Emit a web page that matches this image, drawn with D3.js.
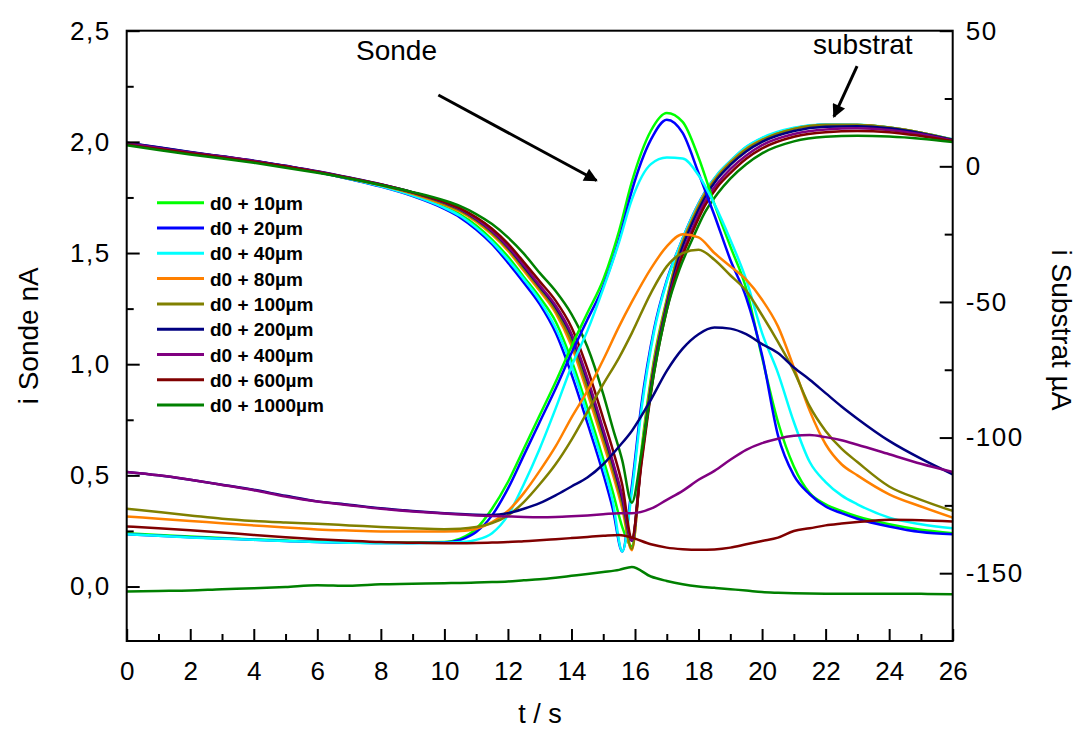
<!DOCTYPE html>
<html>
<head>
<meta charset="utf-8">
<script src="https://cdn.jsdelivr.net/npm/d3@7"></script>
<style>
  html, body { margin: 0; padding: 0; background: #fff; }
  svg { display: block; font-family: "Liberation Sans", Arial, sans-serif; }
</style>
</head>
<body>
<svg id="chart" width="1085" height="731"></svg>
<script>
// ---------- DATA ----------
const seriesLabels = ["d0 + 10µm", "d0 + 20µm", "d0 + 40µm", "d0 + 80µm", "d0 + 100µm",
                      "d0 + 200µm", "d0 + 400µm", "d0 + 600µm", "d0 + 1000µm"];
const seriesColors = ["#00ff00", "#0000ff", "#00ffff", "#ff8000", "#808000",
                      "#000080", "#800080", "#800000", "#008000"];

// time grid for probe (Sonde) currents, s
const tSonde = [0,1,2,3,4,5,6,7,8,9,10,10.5,11,11.5,12,12.5,13,13.5,14,14.5,15,15.5,15.9,16.5,17,17.5,18,18.5,19,19.5,20,20.5,21,21.5,22,22.5,23,24,25,26];
// probe current, nA (left axis)
const sonde10   = [0.24,0.232,0.225,0.218,0.212,0.207,0.202,0.2,0.198,0.198,0.2,0.215,0.26,0.35,0.47,0.62,0.77,0.92,1.08,1.23,1.38,1.6,1.82,2.05,2.13,2.09,1.93,1.72,1.53,1.34,1.03,0.74,0.54,0.42,0.37,0.34,0.315,0.28,0.255,0.24];
const sonde20   = [0.235,0.228,0.222,0.216,0.21,0.205,0.2,0.198,0.196,0.196,0.198,0.21,0.245,0.32,0.44,0.59,0.74,0.89,1.05,1.2,1.35,1.56,1.78,2.01,2.1,2.04,1.86,1.67,1.47,1.3,1.04,0.68,0.5,0.415,0.36,0.33,0.305,0.27,0.245,0.235];
const sonde40   = [0.235,0.228,0.221,0.215,0.21,0.205,0.2,0.197,0.195,0.195,0.197,0.2,0.21,0.24,0.32,0.46,0.62,0.8,0.99,1.15,1.34,1.55,1.74,1.9,1.93,1.925,1.85,1.72,1.56,1.38,1.14,0.96,0.74,0.56,0.47,0.41,0.37,0.31,0.28,0.262];
const sonde80   = [0.315,0.305,0.295,0.285,0.275,0.265,0.257,0.252,0.248,0.247,0.248,0.25,0.26,0.29,0.34,0.42,0.52,0.63,0.76,0.88,1.02,1.17,1.28,1.43,1.53,1.585,1.57,1.5,1.44,1.38,1.29,1.17,0.985,0.79,0.64,0.55,0.5,0.415,0.36,0.31];
const sonde100  = [0.35,0.335,0.32,0.305,0.295,0.288,0.282,0.275,0.268,0.262,0.258,0.26,0.268,0.285,0.32,0.38,0.46,0.55,0.66,0.786,0.91,1.03,1.14,1.32,1.44,1.5,1.515,1.47,1.4,1.33,1.22,1.1,0.97,0.81,0.7,0.62,0.56,0.45,0.39,0.34];
const sonde200  = [0.515,0.5,0.48,0.458,0.435,0.408,0.383,0.368,0.352,0.34,0.33,0.326,0.323,0.322,0.33,0.35,0.375,0.41,0.45,0.49,0.55,0.63,0.7,0.84,0.97,1.07,1.135,1.165,1.16,1.135,1.09,1.05,0.985,0.93,0.87,0.81,0.755,0.655,0.575,0.505];
const sonde400  = [0.515,0.5,0.48,0.457,0.433,0.405,0.382,0.366,0.35,0.338,0.328,0.324,0.32,0.317,0.315,0.313,0.312,0.313,0.316,0.32,0.325,0.33,0.33,0.35,0.39,0.43,0.48,0.52,0.57,0.615,0.645,0.665,0.678,0.682,0.672,0.658,0.638,0.595,0.552,0.515];
const sonde600  = [0.27,0.262,0.253,0.243,0.232,0.222,0.213,0.206,0.2,0.197,0.195,0.195,0.196,0.198,0.2,0.204,0.208,0.213,0.218,0.223,0.228,0.232,0.22,0.19,0.175,0.168,0.165,0.167,0.175,0.19,0.205,0.22,0.25,0.262,0.275,0.283,0.29,0.3,0.298,0.293];
const sonde1000 = [-0.022,-0.02,-0.018,-0.012,-0.008,-0.002,0.006,0.003,0.01,0.012,0.015,0.016,0.018,0.02,0.023,0.028,0.033,0.04,0.048,0.056,0.065,0.075,0.088,0.045,0.025,0.01,0.0,-0.006,-0.012,-0.018,-0.025,-0.028,-0.03,-0.031,-0.032,-0.033,-0.033,-0.032,-0.033,-0.035];

// time grid for substrate currents, s
const tSub = [0,1,2,3,4,5,6,7,8,9,10,10.5,11,11.5,12,12.5,13,13.5,14,14.5,15,15.3,15.6,15.9,16.2,16.6,17,17.4,17.8,18.2,18.6,19,19.5,20,21,22,23,24,25,26];
// substrate current, µA (right axis)
const sub10   = [8.4,6.8,5.1,3.5,1.9,0.0,-2.1,-4.6,-7.3,-10.6,-15.0,-17.8,-21.8,-27.0,-33.3,-40.8,-48.3,-57.2,-71.5,-89.0,-108.0,-120.0,-133.0,-140.0,-105,-71,-49,-30.5,-19,-9.8,-3.3,1.6,6.6,9.9,13.9,15.3,15.2,14.3,12.4,9.8];
const sub20   = [8.6,6.9,5.2,3.6,2.0,0.1,-2.1,-4.7,-7.5,-11.0,-15.7,-18.9,-23.3,-28.7,-35.5,-42.9,-50.8,-61.3,-76.6,-94.6,-113.4,-126.3,-142.0,-118,-88,-60,-42,-29.5,-18.5,-9.5,-3.0,1.8,7.0,10.3,14.0,15.3,15.2,14.2,12.3,9.8];
const sub40   = [8.5,6.8,5.1,3.5,1.9,0.0,-2.1,-4.6,-7.4,-10.8,-15.3,-18.3,-22.6,-27.9,-34.4,-41.6,-49.5,-59.5,-73.5,-91.5,-110.5,-123.5,-142.0,-120,-90,-61,-42.5,-29.5,-18.5,-9.5,-2.8,2.0,7.2,10.5,14.2,15.4,15.3,14.3,12.4,10.0];
const sub80   = [8.3,6.7,5.0,3.5,1.9,0.0,-2.0,-4.4,-7.0,-10.1,-14.2,-16.7,-20.4,-25.2,-31.1,-38.5,-45.9,-54.0,-66.2,-83.5,-102.0,-113.4,-126.3,-141.5,-107,-72,-49.5,-31,-19.5,-10,-3.5,1.5,6.5,9.8,13.8,15.2,15.2,14.3,12.4,9.8];
const sub100  = [8.3,6.7,5.0,3.5,1.9,0.0,-2.0,-4.3,-6.9,-9.9,-13.8,-16.3,-19.9,-24.6,-30.4,-37.6,-45.0,-53.0,-64.5,-81.5,-100.0,-111.5,-124.5,-141.0,-108,-73,-50,-31.5,-20,-10.5,-3.8,1.3,6.3,9.7,13.8,15.2,15.2,14.3,12.4,9.8];
const sub200  = [8.7,7.0,5.3,3.7,2.1,0.2,-1.8,-4.1,-6.6,-9.6,-13.4,-15.9,-19.5,-24.0,-29.8,-36.9,-44.3,-51.9,-62.5,-79.0,-98.0,-109.5,-122.5,-138.0,-108,-74,-51,-33,-21,-11.5,-4.5,0.5,5.5,9.0,13.0,14.6,14.8,14.0,12.2,9.7];
const sub400  = [8.5,6.8,5.1,3.6,2.0,0.1,-1.9,-4.2,-6.7,-9.6,-13.3,-15.8,-19.3,-23.8,-29.5,-36.5,-43.9,-51.3,-61.8,-78.0,-97.0,-108.8,-121.5,-138.0,-109,-75,-52,-35,-23,-13,-6.2,-1.0,4.0,7.8,11.9,13.6,14.0,13.4,11.8,9.5];
const sub600  = [8.0,6.4,4.8,3.3,1.7,-0.1,-2.1,-4.3,-6.7,-9.6,-13.1,-15.5,-18.8,-23.0,-28.5,-35.3,-42.4,-49.5,-59.3,-74.5,-93.0,-104.5,-117.5,-137.0,-110,-76,-53,-36,-24.5,-14.5,-7.5,-2.5,2.8,6.6,10.9,12.6,13.0,12.6,11.2,9.3];
const sub1000 = [7.8,6.0,4.4,2.9,1.3,-0.5,-2.4,-4.5,-6.9,-9.5,-12.6,-14.7,-17.6,-21.3,-26.2,-32.2,-39.3,-46.0,-54.5,-66.5,-84.0,-96.5,-108.5,-124.0,-106,-76,-53,-38,-27,-17,-10,-4.5,0.8,4.8,9.2,10.9,11.3,11.0,10.2,9.0];

const sondeSeries = [sonde10, sonde20, sonde40, sonde80, sonde100, sonde200, sonde400, sonde600, sonde1000];
const subSeries   = [sub10, sub20, sub40, sub80, sub100, sub200, sub400, sub600, sub1000];

// axis ticks
const xTicks = [0,2,4,6,8,10,12,14,16,18,20,22,24,26];
const xMinor = [1,3,5,7,9,11,13,15,17,19,21,23,25];
const yLTicks = [0,0.5,1.0,1.5,2.0,2.5];
const yLMinor = [0.25,0.75,1.25,1.75,2.25];
const yRTicks = [-150,-100,-50,0,50];
const yRMinor = [-125,-75,-25,25];

// ---------- LAYOUT ----------
const plot = {left: 126.7, right: 952.7, top: 30.7, bottom: 641};
const svg = d3.select("#chart");

const x  = d3.scaleLinear().domain([0, 26]).range([plot.left, plot.right]);
const yL = d3.scaleLinear().domain([-0.245, 2.5]).range([plot.bottom, plot.top]);
const yR = d3.scaleLinear().domain([-175, 50]).range([plot.bottom, plot.top]);

const fmtL = v => d3.format(".1f")(v).replace(".", ",");
const fmtR = v => String(v); // plain hyphen minus as in the original

const lineL = d3.line().x(d => x(d[0])).y(d => yL(d[1])).curve(d3.curveMonotoneX);
const lineR = d3.line().x(d => x(d[0])).y(d => yR(d[1])).curve(d3.curveMonotoneX);

const gCurves = svg.append("g");
seriesColors.forEach((c, i) => {
  gCurves.append("path")
    .attr("d", lineR(tSub.map((t, k) => [t, subSeries[i][k]])))
    .attr("fill", "none").attr("stroke", c).attr("stroke-width", 2.5)
    .attr("stroke-linejoin", "round");
});
seriesColors.forEach((c, i) => {
  gCurves.append("path")
    .attr("d", lineL(tSonde.map((t, k) => [t, sondeSeries[i][k]])))
    .attr("fill", "none").attr("stroke", c).attr("stroke-width", 2.5)
    .attr("stroke-linejoin", "round");
});

// axes
function styleAxis(g, fs) {
  g.select(".domain").remove();
  g.selectAll(".tick line").attr("stroke", "#000").attr("stroke-width", 2);
  g.selectAll(".tick text").attr("fill", "#000").attr("font-size", fs || 26)
    .attr("font-family", "Liberation Sans, Arial, sans-serif");
}
const gx = svg.append("g").attr("transform", `translate(0,${plot.bottom})`)
  .call(d3.axisBottom(x).tickValues(xTicks).tickSize(-12).tickPadding(21).tickFormat(d3.format("d")));
styleAxis(gx, 26);
const gxm = svg.append("g").attr("transform", `translate(0,${plot.bottom})`)
  .call(d3.axisBottom(x).tickValues(xMinor).tickSize(-7).tickFormat(""));
styleAxis(gxm);

const gl = svg.append("g").attr("transform", `translate(${plot.left},0)`)
  .call(d3.axisLeft(yL).tickValues(yLTicks).tickSize(-13).tickPadding(16).tickFormat(fmtL));
styleAxis(gl, 26);
gl.selectAll(".tick text").attr("letter-spacing", 1.5);
const glm = svg.append("g").attr("transform", `translate(${plot.left},0)`)
  .call(d3.axisLeft(yL).tickValues(yLMinor).tickSize(-7).tickFormat(""));
styleAxis(glm);

const gr = svg.append("g").attr("transform", `translate(${plot.right},0)`)
  .call(d3.axisRight(yR).tickValues(yRTicks).tickSize(-13).tickPadding(13).tickFormat(fmtR));
styleAxis(gr, 26);
gr.selectAll(".tick text").attr("letter-spacing", 1.5);
const grm = svg.append("g").attr("transform", `translate(${plot.right},0)`)
  .call(d3.axisRight(yR).tickValues(yRMinor).tickSize(-8).tickFormat(""));
styleAxis(grm);

// frame
svg.append("rect")
  .attr("x", plot.left).attr("y", plot.top)
  .attr("width", plot.right - plot.left).attr("height", plot.bottom - plot.top)
  .attr("fill", "none").attr("stroke", "#000").attr("stroke-width", 2);

// axis titles
svg.append("text").attr("transform", `translate(38,${(plot.top + plot.bottom) / 2}) rotate(-90)`)
  .attr("text-anchor", "middle").attr("font-size", 28).text("i Sonde nA");
svg.append("text").attr("transform", `translate(1052,330) rotate(90)`)
  .attr("text-anchor", "middle").attr("font-size", 28).text("i Substrat µA");
svg.append("text").attr("x", 540).attr("y", 723)
  .attr("text-anchor", "middle").attr("font-size", 27).text("t / s");

// annotations
svg.append("defs").append("marker")
  .attr("id", "arr").attr("viewBox", "0 0 10 10").attr("refX", 9).attr("refY", 5)
  .attr("markerWidth", 6).attr("markerHeight", 4.5).attr("orient", "auto")
  .attr("markerUnits", "strokeWidth")
  .append("path").attr("d", "M0,0 L10,5 L0,10 Z").attr("fill", "#000");

svg.append("text").attr("x", 356).attr("y", 60).attr("font-size", 28).text("Sonde");
svg.append("line")
  .attr("x1", x(9.81)).attr("y1", yL(2.211)).attr("x2", x(14.79)).attr("y2", yL(1.826))
  .attr("stroke", "#000").attr("stroke-width", 3).attr("marker-end", "url(#arr)");
svg.append("text").attr("x", 813).attr("y", 54).attr("font-size", 28).text("substrat");
svg.append("line")
  .attr("x1", x(22.99)).attr("y1", yL(2.341)).attr("x2", x(22.26)).attr("y2", yL(2.113))
  .attr("stroke", "#000").attr("stroke-width", 3).attr("marker-end", "url(#arr)");

// legend
const leg = svg.append("g");
seriesLabels.forEach((lab, i) => {
  const yy = 202.7 + i * 25.3;
  leg.append("line").attr("x1", 157).attr("x2", 204).attr("y1", yy).attr("y2", yy)
    .attr("stroke", seriesColors[i]).attr("stroke-width", 3);
  leg.append("text").attr("x", 210).attr("y", yy + 7).attr("font-size", 19)
    .attr("font-weight", "bold").text(lab);
});
</script>
</body>
</html>
